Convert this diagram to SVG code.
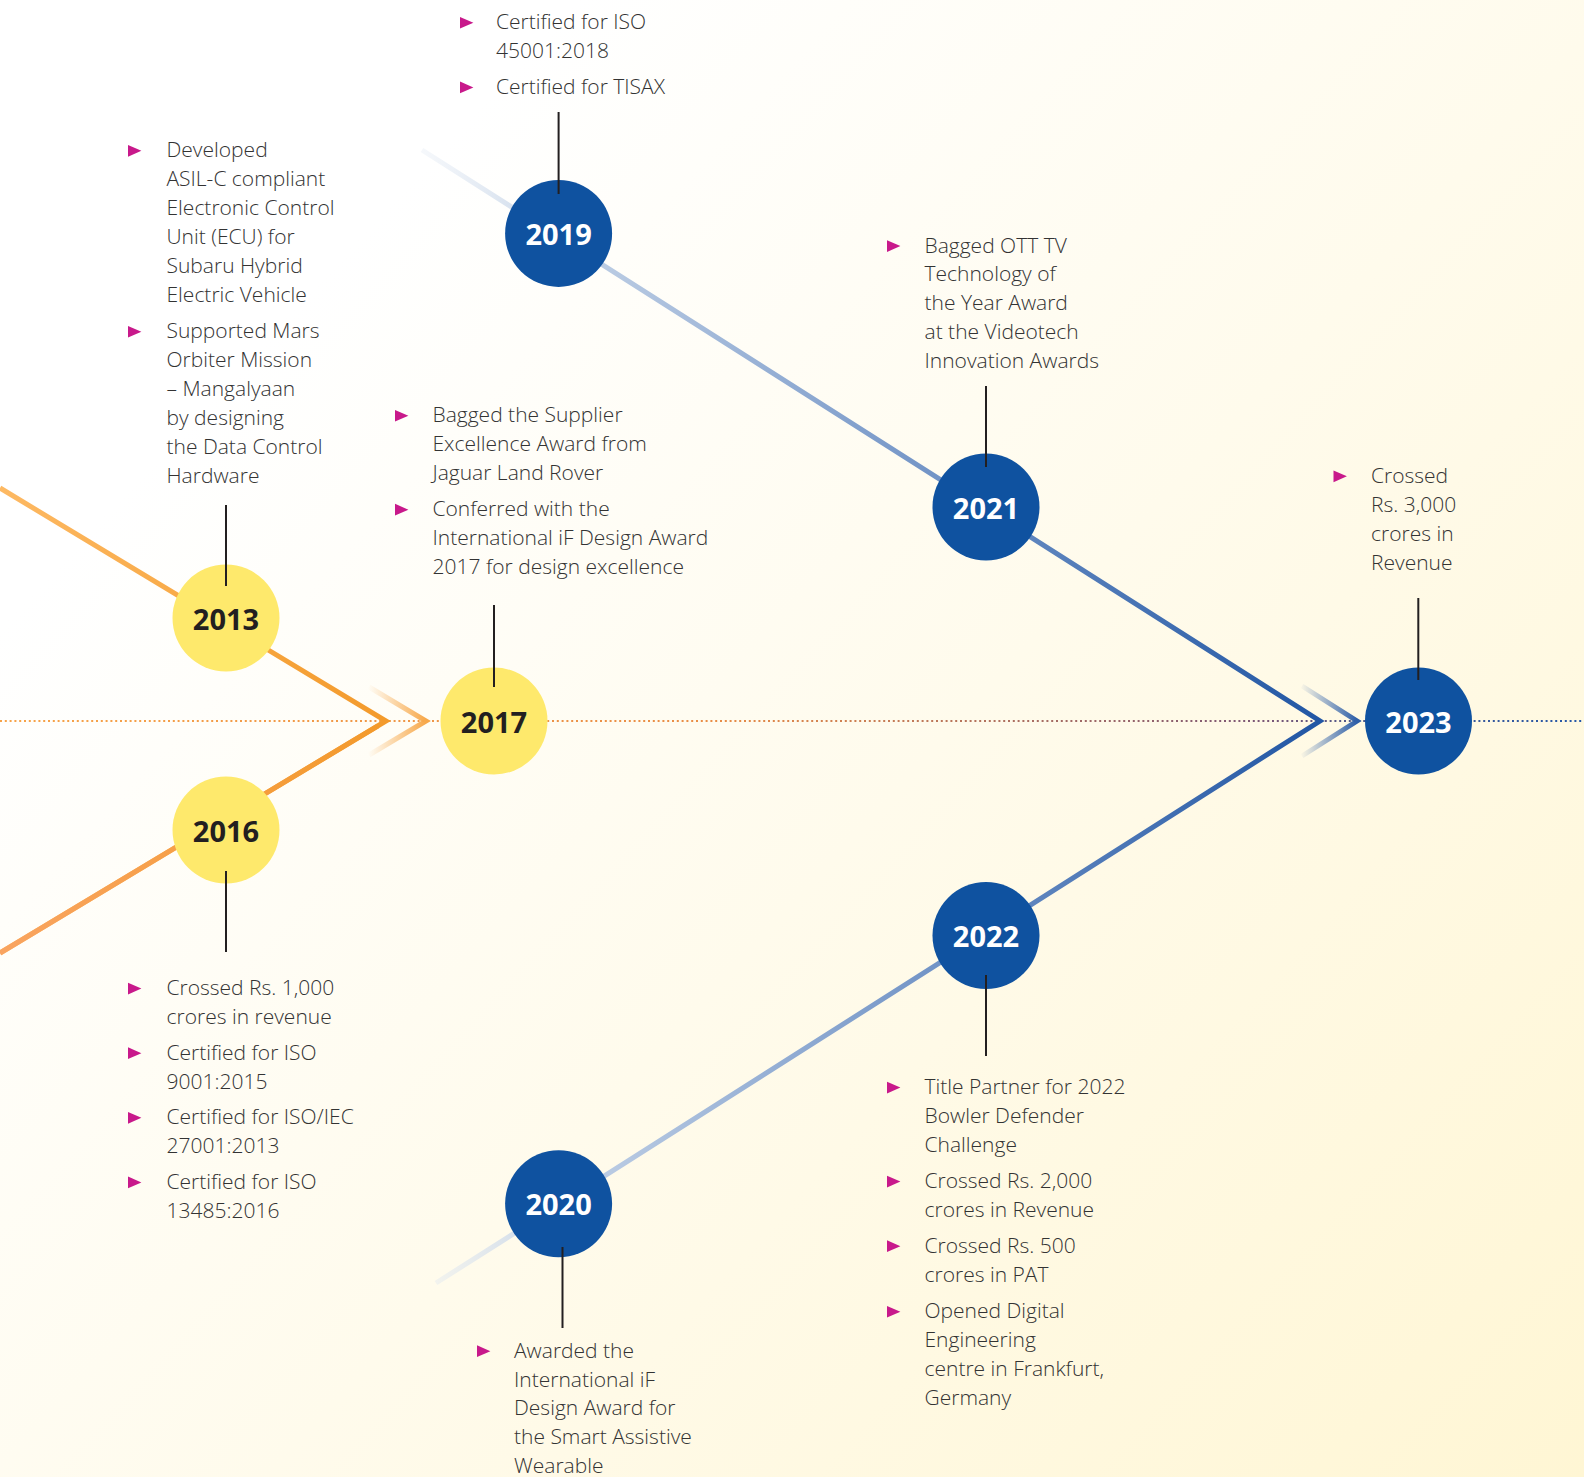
<svg xmlns="http://www.w3.org/2000/svg" width="1584" height="1477" viewBox="0 0 1584 1477">
<defs>
<linearGradient id="bg" gradientUnits="userSpaceOnUse" x1="300" y1="300" x2="1584" y2="1477">
<stop offset="0" stop-color="#ffffff"/>
<stop offset="1" stop-color="#fff6d4"/>
</linearGradient>
<linearGradient id="dots" gradientUnits="userSpaceOnUse" x1="0" y1="0" x2="1584" y2="0">
<stop offset="0" stop-color="#f7a349"/>
<stop offset="0.45" stop-color="#e98d46"/>
<stop offset="0.8" stop-color="#7a5676"/>
<stop offset="0.86" stop-color="#4d5a8e"/>
<stop offset="1" stop-color="#2558a8"/>
</linearGradient>
<linearGradient id="orgArm" gradientUnits="userSpaceOnUse" x1="0" y1="0" x2="386" y2="0">
<stop offset="0" stop-color="#fdb963"/>
<stop offset="1" stop-color="#f39a2b"/>
</linearGradient>
<linearGradient id="orgLow" gradientUnits="userSpaceOnUse" x1="0" y1="0" x2="386" y2="0">
<stop offset="0" stop-color="#f9a461"/>
<stop offset="1" stop-color="#f39a2b"/>
</linearGradient>
<linearGradient id="orgFade" gradientUnits="userSpaceOnUse" x1="368" y1="0" x2="426" y2="0">
<stop offset="0" stop-color="#f7a84a" stop-opacity="0"/>
<stop offset="1" stop-color="#f7a84a" stop-opacity="1"/>
</linearGradient>
<linearGradient id="bluArm" gradientUnits="userSpaceOnUse" x1="422" y1="0" x2="1320" y2="0">
<stop offset="0" stop-color="#dfe7f2" stop-opacity="0.3"/>
<stop offset="0.15" stop-color="#c4d3e7"/>
<stop offset="0.55" stop-color="#7697c8"/>
<stop offset="1" stop-color="#2156a4"/>
</linearGradient>
<linearGradient id="bluFade" gradientUnits="userSpaceOnUse" x1="1300" y1="0" x2="1357" y2="0">
<stop offset="0" stop-color="#2d5ea8" stop-opacity="0"/>
<stop offset="1" stop-color="#2d5ea8" stop-opacity="1"/>
</linearGradient>
<path id="bul" d="M0 0 L13.4 5.85 L0 11.7 Z" fill="#c8198b"/>
<style>
.t{font-family:"Open Sans","Noto Sans","DejaVu Sans",sans-serif;font-weight:300;font-size:21px;fill:#333333}
.yr{font-family:"Open Sans","Noto Sans",sans-serif;font-weight:700;font-size:29px;text-anchor:middle}
.yl{fill:#fee96c}
.bl{fill:#0f52a0}
.dk{fill:#231f20}
.wh{fill:#ffffff}
.conn{stroke:#231f20;stroke-width:2;fill:none}
.arm{fill:none;stroke-width:5;stroke-linejoin:miter;stroke-miterlimit:10}
</style>
</defs>
<rect x="0" y="0" width="1584" height="1477" fill="url(#bg)"/>

<g id="timeline">
<line x1="0" y1="721" x2="1584" y2="721" stroke="url(#dots)" stroke-width="2.2" stroke-dasharray="2 2.8"/>
<polyline class="arm" points="0,488 386,721 0,953" stroke="url(#orgArm)"/>
<line class="arm" x1="0" y1="953" x2="378" y2="725.8" stroke="url(#orgLow)"/>
<polyline class="arm" points="369,687 426,721 369,755" stroke="url(#orgFade)"/>
<polyline class="arm" points="422,150 1320,721 436,1283" stroke="url(#bluArm)"/>
<polyline class="arm" points="1302,686 1357,721 1302,756" stroke="url(#bluFade)"/>
</g>

<g id="n2013">
<circle class="yl" cx="226" cy="618" r="53.5"/>
<text class="yr dk" x="226" y="629.5">2013</text>
<use href="#bul" x="128" y="145"/>
<text class="t"><tspan x="166.5" y="157.3">Developed</tspan><tspan x="166.5" y="186.2">ASIL-C compliant</tspan><tspan x="166.5" y="215.1">Electronic Control</tspan><tspan x="166.5" y="244">Unit (ECU) for</tspan><tspan x="166.5" y="272.9">Subaru Hybrid</tspan><tspan x="166.5" y="301.8">Electric Vehicle</tspan></text>
<use href="#bul" x="128" y="325.9"/>
<text class="t"><tspan x="166.5" y="338.2">Supported Mars</tspan><tspan x="166.5" y="367.1">Orbiter Mission</tspan><tspan x="166.5" y="396">– Mangalyaan</tspan><tspan x="166.5" y="424.9">by designing</tspan><tspan x="166.5" y="453.8">the Data Control</tspan><tspan x="166.5" y="482.7">Hardware</tspan></text>
</g>

<g id="n2016">
<circle class="yl" cx="226" cy="830" r="53.5"/>
<text class="yr dk" x="226" y="841.5">2016</text>
<use href="#bul" x="128" y="982.7"/>
<text class="t"><tspan x="166.5" y="995">Crossed Rs. 1,000</tspan><tspan x="166.5" y="1024">crores in revenue</tspan></text>
<use href="#bul" x="128" y="1047.3"/>
<text class="t"><tspan x="166.5" y="1059.6">Certified for ISO</tspan><tspan x="166.5" y="1088.5">9001:2015</tspan></text>
<use href="#bul" x="128" y="1112"/>
<text class="t"><tspan x="166.5" y="1124.3">Certified for ISO/IEC</tspan><tspan x="166.5" y="1153.2">27001:2013</tspan></text>
<use href="#bul" x="128" y="1176.6"/>
<text class="t"><tspan x="166.5" y="1188.9">Certified for ISO</tspan><tspan x="166.5" y="1217.8">13485:2016</tspan></text>
</g>

<g id="n2017">
<circle class="yl" cx="494" cy="721" r="53.5"/>
<text class="yr dk" x="494" y="732.5">2017</text>
<use href="#bul" x="395" y="409.9"/>
<text class="t"><tspan x="432.5" y="422.2">Bagged the Supplier</tspan><tspan x="432.5" y="451.1">Excellence Award from</tspan><tspan x="432.5" y="480">Jaguar Land Rover</tspan></text>
<use href="#bul" x="395" y="503.8"/>
<text class="t"><tspan x="432.5" y="516.1">Conferred with the</tspan><tspan x="432.5" y="545">International iF Design Award</tspan><tspan x="432.5" y="573.9">2017 for design excellence</tspan></text>
</g>

<g id="n2019">
<circle class="bl" cx="558.6" cy="233.4" r="53.5"/>
<text class="yr wh" x="558.6" y="244.9">2019</text>
<use href="#bul" x="460" y="16.9"/>
<text class="t"><tspan x="496" y="29.2">Certified for ISO</tspan><tspan x="496" y="58.1">45001:2018</tspan></text>
<use href="#bul" x="460" y="81.6"/>
<text class="t"><tspan x="496" y="93.9">Certified for TISAX</tspan></text>
</g>

<g id="n2020">
<circle class="bl" cx="558.6" cy="1203.8" r="53.5"/>
<text class="yr wh" x="558.6" y="1215.3">2020</text>
<use href="#bul" x="477" y="1345.3"/>
<text class="t"><tspan x="514" y="1357.6">Awarded the</tspan><tspan x="514" y="1386.5">International iF</tspan><tspan x="514" y="1415.4">Design Award for</tspan><tspan x="514" y="1444.3">the Smart Assistive</tspan><tspan x="514" y="1473.2">Wearable</tspan></text>
</g>

<g id="n2021">
<circle class="bl" cx="986" cy="507" r="53.5"/>
<text class="yr wh" x="986" y="518.5">2021</text>
<use href="#bul" x="887" y="240.2"/>
<text class="t"><tspan x="924.5" y="252.5">Bagged OTT TV</tspan><tspan x="924.5" y="281.4">Technology of</tspan><tspan x="924.5" y="310.3">the Year Award</tspan><tspan x="924.5" y="339.2">at the Videotech</tspan><tspan x="924.5" y="368.1">Innovation Awards</tspan></text>
</g>

<g id="n2022">
<circle class="bl" cx="986" cy="935.5" r="53.5"/>
<text class="yr wh" x="986" y="947">2022</text>
<use href="#bul" x="887" y="1081.7"/>
<text class="t"><tspan x="924.5" y="1094">Title Partner for 2022</tspan><tspan x="924.5" y="1122.9">Bowler Defender</tspan><tspan x="924.5" y="1151.8">Challenge</tspan></text>
<use href="#bul" x="887" y="1175.7"/>
<text class="t"><tspan x="924.5" y="1188">Crossed Rs. 2,000</tspan><tspan x="924.5" y="1216.9">crores in Revenue</tspan></text>
<use href="#bul" x="887" y="1240.3"/>
<text class="t"><tspan x="924.5" y="1252.6">Crossed Rs. 500</tspan><tspan x="924.5" y="1281.5">crores in PAT</tspan></text>
<use href="#bul" x="887" y="1305.9"/>
<text class="t"><tspan x="924.5" y="1318.2">Opened Digital</tspan><tspan x="924.5" y="1347.1">Engineering</tspan><tspan x="924.5" y="1376">centre in Frankfurt,</tspan><tspan x="924.5" y="1404.9">Germany</tspan></text>
</g>

<g id="n2023">
<circle class="bl" cx="1418.5" cy="721" r="53.5"/>
<text class="yr wh" x="1418.5" y="732.5">2023</text>
<use href="#bul" x="1333.5" y="470.5"/>
<text class="t"><tspan x="1371" y="482.8">Crossed</tspan><tspan x="1371" y="511.7">Rs. 3,000</tspan><tspan x="1371" y="540.6">crores in</tspan><tspan x="1371" y="569.5">Revenue</tspan></text>
</g>

<g id="connectors">
<line class="conn" x1="226" y1="505" x2="226" y2="586"/>
<line class="conn" x1="226" y1="871" x2="226" y2="952"/>
<line class="conn" x1="494" y1="605" x2="494" y2="687"/>
<line class="conn" x1="558.6" y1="112" x2="558.6" y2="194"/>
<line class="conn" x1="986" y1="386" x2="986" y2="467"/>
<line class="conn" x1="1418.3" y1="598" x2="1418.3" y2="680"/>
<line class="conn" x1="986" y1="975" x2="986" y2="1056"/>
<line class="conn" x1="562.5" y1="1247" x2="562.5" y2="1328"/>
</g>
</svg>
